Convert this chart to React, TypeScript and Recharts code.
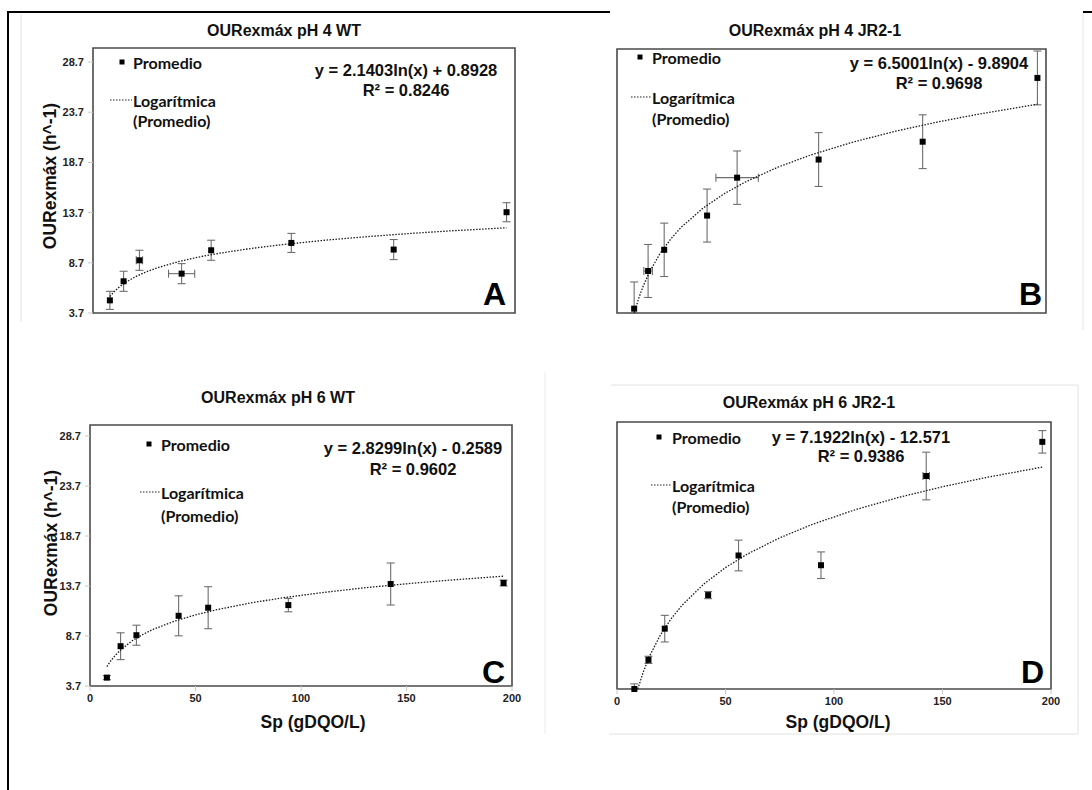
import React from 'react';
import { ScatterChart, Scatter, XAxis, YAxis, ErrorBar, ReferenceArea } from 'recharts';

// ---------- data ----------
const spValues = [8, 14.5, 22, 42, 56, 94, 142.5, 196];
const xTicks = [0, 50, 100, 150, 200];
const yTicks = [3.7, 8.7, 13.7, 18.7, 23.7, 28.7];

// Panel A: pH 4 WT
const aMean = [4.96, 6.86, 8.95, 7.62, 9.95, 10.68, 10.02, 13.74];
const aYErr = [0.9, 1.0, 1.0, 1.0, 1.0, 0.95, 1.0, 0.95];
const aXErr = [0, 0, 1.5, 6.2, 0, 0, 0, 0];
// Panel B: pH 4 JR2-1
const bMean = [4.13, 7.87, 9.97, 13.37, 17.13, 18.93, 20.7, 27.03];
const bYErr = [2.65, 2.63, 2.65, 2.63, 2.65, 2.67, 2.67, 2.67];
const bXErr = [0, 2, 0, 0, 9.9, 0, 0, 0];
// Panel C: pH 6 WT
const cMean = [4.54, 7.68, 8.78, 10.72, 11.53, 11.79, 13.9, 14.0];
const cYErr = [0.2, 1.34, 1.0, 2.0, 2.1, 0.67, 2.1, 0.3];
const cXErr = [0, 0, 0, 0, 0, 0, 0, 0];
// Panel D: pH 6 JR2-1
const dMean = [3.7, 6.55, 9.6, 12.88, 16.75, 15.8, 24.52, 27.86];
const dYErr = [0.5, 0.35, 1.3, 0.35, 1.5, 1.3, 2.33, 1.1];
const dXErr = [0, 0, 0, 0, 0, 0, 1.5, 0];

// logarithmic trend lines
const trendX = [8, 10, 12, 15, 20, 25, 30, 40, 50, 60, 75, 90, 110, 130, 150, 170, 196];
const aTrendY = [5.34, 5.82, 6.21, 6.69, 7.3, 7.78, 8.17, 8.79, 9.27, 9.66, 10.13, 10.52, 10.95, 11.31, 11.62, 11.89, 12.19];
const bTrendX = [8.1, 10, 12, 15, 20, 25, 30, 40, 50, 60, 75, 90, 110, 130, 150, 170, 196];
const bTrendY = [3.71, 5.08, 6.26, 7.71, 9.58, 11.03, 12.22, 14.09, 15.54, 16.72, 18.17, 19.36, 20.66, 21.75, 22.68, 23.49, 24.42];
const cTrendY = [5.63, 6.26, 6.77, 7.4, 8.22, 8.85, 9.37, 10.18, 10.81, 11.33, 11.96, 12.48, 13.04, 13.52, 13.92, 14.28, 14.68];
const dTrendX = [9.6, 12, 15, 20, 25, 30, 40, 50, 60, 75, 90, 110, 130, 150, 170, 196];
const dTrendY = [3.7, 5.3, 6.91, 8.98, 10.58, 11.89, 13.96, 15.57, 16.88, 18.48, 19.79, 21.24, 22.44, 23.47, 24.37, 25.39];

const titles = ['OURexmáx pH 4 WT', 'OURexmáx pH 4 JR2-1', 'OURexmáx pH 6 WT', 'OURexmáx pH 6 JR2-1'];
const equations = ['y = 2.1403ln(x) + 0.8928', 'y = 6.5001ln(x) - 9.8904', 'y = 2.8299ln(x) - 0.2589', 'y = 7.1922ln(x) - 12.571'];
const r2Labels = ['R² = 0.8246', 'R² = 0.9698', 'R² = 0.9602', 'R² = 0.9386'];
const letters = ['A', 'B', 'C', 'D'];
const yAxisTitle = 'OURexmáx (h^-1)';
const xAxisTitle = 'Sp (gDQO/L)';
const legendPoints = 'Promedio';
const legendTrend1 = 'Logarítmica';
const legendTrend2 = '(Promedio)';

const Y_MIN = 3.7;

const FONT_ARIAL = '"Liberation Sans", Arial, Helvetica, sans-serif';
const FONT_LEGEND = 'Lato, "Open Sans", sans-serif';

function buildRows(mean: number[], yErr: number[], xErr: number[]) {
  return spValues.map((x, i) => ({
    x,
    y: mean[i],
    yErr: [Math.min(yErr[i], mean[i] - Y_MIN), yErr[i]],
    xErr: xErr[i],
  }));
}
function buildTrend(xs: number[], ys: number[]) {
  return xs.map((x, i) => ({ x, y: ys[i] }));
}

const SquareShape = (props: any) => {
  const { cx, cy } = props;
  if (cx == null || cy == null) return <g />;
  return <rect x={cx - 3} y={cy - 3} width={6} height={6} fill="#000" />;
};
const EmptyShape = () => <g />;

type Box = { l: number; r: number; t: number; b: number };

interface PanelDef {
  rows: any[];
  trend: any[];
  box: Box;
  yMax: number;
  showYTicks: boolean;
  showXTicks: boolean;
}

const panels: PanelDef[] = [
  { rows: buildRows(aMean, aYErr, aXErr), trend: buildTrend(trendX, aTrendY), box: { l: 93, r: 515, t: 48, b: 313 }, yMax: 30.1, showYTicks: true, showXTicks: false },
  { rows: buildRows(bMean, bYErr, bXErr), trend: buildTrend(bTrendX, bTrendY), box: { l: 617, r: 1046, t: 49, b: 313 }, yMax: 29.9, showYTicks: false, showXTicks: false },
  { rows: buildRows(cMean, cYErr, cXErr), trend: buildTrend(trendX, cTrendY), box: { l: 90, r: 512, t: 425, b: 686 }, yMax: 29.8, showYTicks: true, showXTicks: true },
  { rows: buildRows(dMean, dYErr, dXErr), trend: buildTrend(dTrendX, dTrendY), box: { l: 617, r: 1051, t: 422, b: 689 }, yMax: 29.8, showYTicks: false, showXTicks: true },
];

const tickStyle = { fontSize: 11, fontWeight: 700, fill: '#222', fontFamily: FONT_ARIAL };

function Panel({ p }: { p: PanelDef }) {
  const { box } = p;
  const width = box.r - box.l + 80;
  const height = box.b - box.t + 50;
  return (
    <div style={{ position: 'absolute', left: box.l - 60, top: box.t - 10, width, height }}>
      <ScatterChart width={width} height={height} margin={{ top: 10, right: 20, bottom: 10, left: 20 }}>
        <XAxis
          type="number"
          dataKey="x"
          domain={[0, 200]}
          ticks={xTicks}
          axisLine={false}
          tickLine={{ stroke: '#c8c8c8' }}
          tickSize={5}
          tickMargin={3}
          height={30}
          tick={p.showXTicks ? tickStyle : false}
        />
        <YAxis
          type="number"
          dataKey="y"
          domain={[Y_MIN, p.yMax]}
          ticks={yTicks}
          axisLine={false}
          tickLine={{ stroke: '#c8c8c8' }}
          tickSize={5}
          tickMargin={4}
          width={40}
          tick={p.showYTicks ? tickStyle : false}
        />
        <ReferenceArea x1={0} x2={200} y1={Y_MIN} y2={p.yMax} fill="none" fillOpacity={0} stroke="#4a4a4a" strokeWidth={1.6} />
        <Scatter
          data={p.trend}
          shape={EmptyShape}
          line={{ stroke: '#1a1a1a', strokeWidth: 1.3, strokeDasharray: '1.5 1.5' }}
          isAnimationActive={false}
        />
        <Scatter data={p.rows} shape={SquareShape} isAnimationActive={false}>
          <ErrorBar dataKey="yErr" direction="y" width={4} stroke="#6e6e6e" strokeWidth={1.1} />
          <ErrorBar dataKey="xErr" direction="x" width={4} stroke="#6e6e6e" strokeWidth={1.1} />
        </Scatter>
      </ScatterChart>
    </div>
  );
}

// overlay text placement per panel
const titlePos = [
  { x: 284, y: 30 },
  { x: 815, y: 30 },
  { x: 278, y: 397 },
  { x: 809, y: 402 },
];
const legendPos = [
  { mx: 122, my: 62, tx: 133, ly: 100, ly2: 120, lx1: 110 },
  { mx: 640, my: 57, tx: 652, ly: 97, ly2: 118, lx1: 631 },
  { mx: 149, my: 444, tx: 161, ly: 492, ly2: 515, lx1: 140 },
  { mx: 659, my: 437, tx: 672, ly: 485, ly2: 506, lx1: 651 },
];
const eqPos = [
  { x: 406, y: 70, y2: 90 },
  { x: 939, y: 63, y2: 83 },
  { x: 413, y: 448, y2: 469 },
  { x: 861, y: 437, y2: 456 },
];
const letterPos = [
  { x: 506, y: 305 },
  { x: 1042, y: 305 },
  { x: 505, y: 683 },
  { x: 1044, y: 683 },
];

function Overlay() {
  return (
    <svg width={1092} height={790} style={{ position: 'absolute', left: 0, top: 0, pointerEvents: 'none' }}>
      {/* faint panel borders */}
      <line x1={21} y1={14} x2={21} y2={322} stroke="#e2e2e2" strokeWidth={1} />
      <line x1={1083} y1={12} x2={1083} y2={330} stroke="#e2e2e2" strokeWidth={1} />
      <line x1={545} y1={372} x2={545} y2={734} stroke="#ececec" strokeWidth={1} />
      <line x1={611} y1={385} x2={1078} y2={385} stroke="#e2e2e2" strokeWidth={1} />
      <line x1={1078} y1={385} x2={1078} y2={734} stroke="#e2e2e2" strokeWidth={1} />
      <line x1={609} y1={734} x2={1078} y2={734} stroke="#e2e2e2" strokeWidth={1} />
      {/* outer frame */}
      <line x1={7} y1={12} x2={610} y2={12} stroke="#000" strokeWidth={2} />
      <line x1={1083} y1={12} x2={1092} y2={12} stroke="#000" strokeWidth={2} />
      <line x1={8} y1={11} x2={8} y2={790} stroke="#000" strokeWidth={2} />

      {titles.map((t, i) => (
        <text key={'t' + i} x={titlePos[i].x} y={titlePos[i].y} textAnchor="middle" dominantBaseline="central"
          fontFamily={FONT_ARIAL} fontWeight={700} fontSize={16} fill="#111">{t}</text>
      ))}

      {/* y axis titles */}
      <text x={50} y={176} transform="rotate(-90 50 176)" textAnchor="middle" dominantBaseline="central"
        fontFamily={FONT_ARIAL} fontWeight={700} fontSize={17.5} fill="#111">{yAxisTitle}</text>
      <text x={51} y={543} transform="rotate(-90 51 543)" textAnchor="middle" dominantBaseline="central"
        fontFamily={FONT_ARIAL} fontWeight={700} fontSize={17.5} fill="#111">{yAxisTitle}</text>

      {/* x axis titles */}
      <text x={313} y={722} textAnchor="middle" dominantBaseline="central"
        fontFamily={FONT_ARIAL} fontWeight={700} fontSize={17.5} fill="#111">{xAxisTitle}</text>
      <text x={838} y={722} textAnchor="middle" dominantBaseline="central"
        fontFamily={FONT_ARIAL} fontWeight={700} fontSize={17.5} fill="#111">{xAxisTitle}</text>

      {legendPos.map((l, i) => (
        <g key={'l' + i}>
          <rect x={l.mx - 2.5} y={l.my - 2.5} width={5} height={5} fill="#000" />
          <text x={l.tx} y={l.my} dominantBaseline="central" fontFamily={FONT_LEGEND} fontWeight={700} fontSize={16} fill="#111">{legendPoints}</text>
          <line x1={l.lx1} y1={l.ly} x2={l.tx - 1} y2={l.ly} stroke="#222" strokeWidth={1.2} strokeDasharray="1.5 1.5" />
          <text x={l.tx} y={l.ly} dominantBaseline="central" fontFamily={FONT_LEGEND} fontWeight={700} fontSize={16} fill="#111">{legendTrend1}</text>
          <text x={l.tx} y={l.ly2} dominantBaseline="central" fontFamily={FONT_LEGEND} fontWeight={700} fontSize={16} fill="#111">{legendTrend2}</text>
        </g>
      ))}

      {equations.map((e, i) => (
        <g key={'e' + i}>
          <text x={eqPos[i].x} y={eqPos[i].y} textAnchor="middle" dominantBaseline="central"
            fontFamily={FONT_ARIAL} fontWeight={700} fontSize={16.5} fill="#111">{e}</text>
          <text x={eqPos[i].x} y={eqPos[i].y2} textAnchor="middle" dominantBaseline="central"
            fontFamily={FONT_ARIAL} fontWeight={700} fontSize={16.5} fill="#111">{r2Labels[i]}</text>
        </g>
      ))}

      {letters.map((c, i) => (
        <text key={'c' + i} x={letterPos[i].x} y={letterPos[i].y} textAnchor="end"
          fontFamily={FONT_ARIAL} fontWeight={700} fontSize={32} fill="#000">{c}</text>
      ))}
    </svg>
  );
}

export default function App() {
  return (
    <div style={{ position: 'relative', width: 1092, height: 790, background: '#fff', overflow: 'hidden' }}>
      <style>{`body{margin:0;}`}</style>
      {panels.map((p, i) => (
        <Panel key={i} p={p} />
      ))}
      <Overlay />
    </div>
  );
}
